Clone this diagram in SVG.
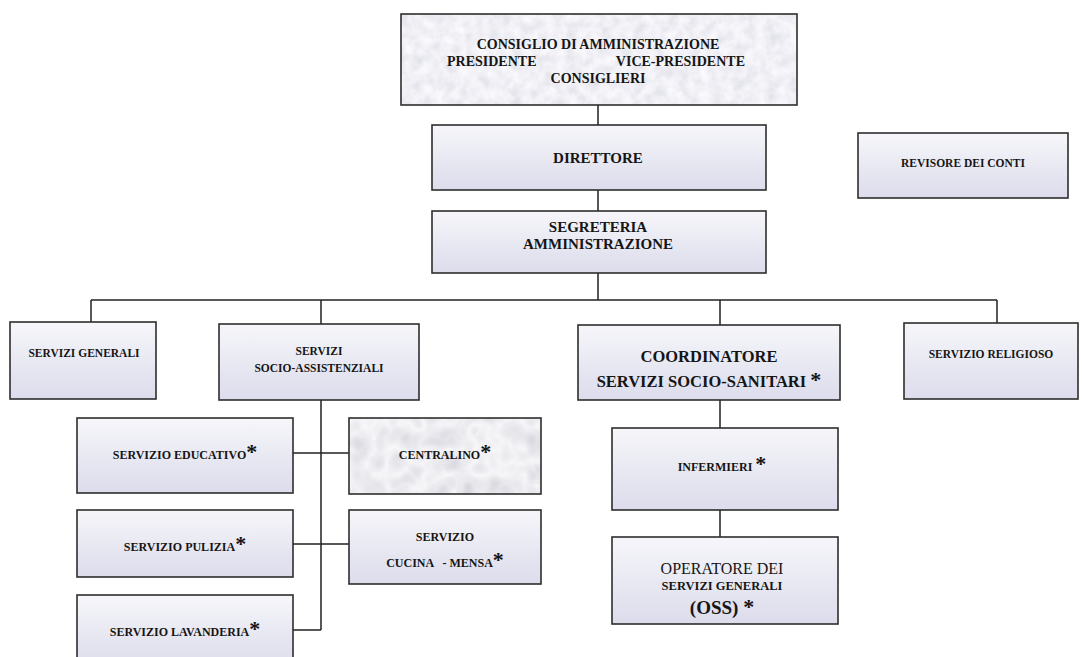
<svg xmlns="http://www.w3.org/2000/svg" width="1082" height="657" viewBox="0 0 1082 657">
<style>
text{font-family:'Liberation Serif','DejaVu Serif',serif;fill:#151515;font-weight:bold;text-anchor:middle;white-space:pre}
.box{stroke:#2e2e2e;stroke-width:1.6;fill:url(#grad)}
.edge{fill:none;stroke:#2e2e2e;stroke-width:1.6}
.ln{stroke:#222;stroke-width:1.5;fill:none}
.s{font-size:11.5px}
.m{font-size:12px}
.ast{font-size:22px;font-weight:bold}
</style>
<defs>
<linearGradient id="grad" x1="0" y1="0" x2="0" y2="1">
<stop offset="0" stop-color="#f6f6fa"/>
<stop offset="1" stop-color="#dcdcec"/>
</linearGradient>
<filter id="marble" x="0" y="0" width="1" height="1">
<feTurbulence type="fractalNoise" baseFrequency="0.09" numOctaves="3" seed="4" result="n"/>
<feColorMatrix in="n" type="matrix" values="0.3 0 0 0 0.72  0.3 0 0 0 0.72  0.25 0 0 0 0.79  0 0 0 0 1"/>
</filter>
<filter id="drops" x="0" y="0" width="1" height="1">
<feTurbulence type="turbulence" baseFrequency="0.04" numOctaves="2" seed="7" result="n"/>
<feColorMatrix in="n" type="matrix" values="-0.35 0 0 0 0.93  -0.35 0 0 0 0.93  -0.3 0 0 0 0.95  0 0 0 0 1"/>
</filter>
</defs>
<rect width="1082" height="657" fill="#ffffff"/>

<g id="connectors">
<path class="ln" d="M598 105V125M598 190V211M598 273V300M91 300H997M91 300V322M321 300V324M720 300V325M997 300V323"/>
<path class="ln" d="M321 400V630M293 453H349M293 544H349M293 630H321"/>
<path class="ln" d="M720 400V428M720 510V537"/>
</g>

<g id="cda">
<rect x="401" y="14" width="396" height="91" fill="#ddd" filter="url(#marble)"/>
<rect class="edge" x="401" y="14" width="396" height="91"/>
<text x="598" y="49" font-size="14">CONSIGLIO DI AMMINISTRAZIONE</text>
<text x="447" y="66" font-size="14" style="text-anchor:start">PRESIDENTE</text>
<text x="745" y="66" font-size="14" style="text-anchor:end">VICE-PRESIDENTE</text>
<text x="598" y="83" font-size="14">CONSIGLIERI</text>
</g>

<g id="direttore">
<rect class="box" x="432" y="125" width="334" height="65"/>
<text x="598" y="163" font-size="15">DIRETTORE</text>
</g>

<g id="segreteria">
<rect class="box" x="432" y="211" width="334" height="62"/>
<text x="598" y="232" font-size="15">SEGRETERIA</text>
<text x="598" y="249" font-size="15">AMMINISTRAZIONE</text>
</g>

<g id="revisore">
<rect class="box" x="858" y="133" width="210" height="65"/>
<text class="s" x="963" y="167">REVISORE DEI CONTI</text>
</g>

<g id="servizi-generali">
<rect class="box" x="10" y="322" width="146" height="77"/>
<text class="s" x="84" y="357">SERVIZI GENERALI</text>
</g>

<g id="socio-assistenziali">
<rect class="box" x="219" y="324" width="200" height="76"/>
<text class="s" x="319" y="355">SERVIZI</text>
<text class="s" x="319" y="372">SOCIO-ASSISTENZIALI</text>
</g>

<g id="coordinatore">
<rect class="box" x="578" y="325" width="262" height="75"/>
<text x="709" y="362" font-size="16.5">COORDINATORE</text>
<text x="709" y="387" font-size="16.5">SERVIZI SOCIO-SANITARI <tspan class="ast">*</tspan></text>
</g>

<g id="religioso">
<rect class="box" x="904" y="323" width="174" height="76"/>
<text class="s" x="991" y="358">SERVIZIO RELIGIOSO</text>
</g>

<g id="educativo">
<rect class="box" x="77" y="418" width="216" height="75"/>
<text class="m" x="185" y="459">SERVIZIO EDUCATIVO<tspan class="ast">*</tspan></text>
</g>

<g id="centralino">
<rect x="349" y="418" width="192" height="76" fill="#ddd" filter="url(#drops)"/>
<rect class="edge" x="349" y="418" width="192" height="76"/>
<text class="m" x="445" y="459">CENTRALINO<tspan class="ast">*</tspan></text>
</g>

<g id="pulizia">
<rect class="box" x="77" y="510" width="216" height="67"/>
<text class="m" x="185" y="551">SERVIZIO PULIZIA<tspan class="ast">*</tspan></text>
</g>

<g id="cucina">
<rect class="box" x="349" y="510" width="192" height="74"/>
<text class="m" x="445" y="541">SERVIZIO</text>
<text class="m" x="445" y="567">CUCINA   - MENSA<tspan class="ast">*</tspan></text>
</g>

<g id="lavanderia">
<rect class="box" x="77" y="595" width="216" height="72"/>
<text class="m" x="185" y="636">SERVIZIO LAVANDERIA<tspan class="ast">*</tspan></text>
</g>

<g id="infermieri">
<rect class="box" x="612" y="428" width="226" height="82"/>
<text class="m" x="722" y="471">INFERMIERI <tspan class="ast">*</tspan></text>
</g>

<g id="oss">
<rect class="box" x="612" y="537" width="226" height="87"/>
<text x="722" y="574" font-size="16" style="font-weight:normal">OPERATORE DEI</text>
<text x="722" y="590" font-size="12.5">SERVIZI GENERALI</text>
<text x="722" y="614" font-size="19">(OSS) <tspan class="ast">*</tspan></text>
</g>
</svg>
